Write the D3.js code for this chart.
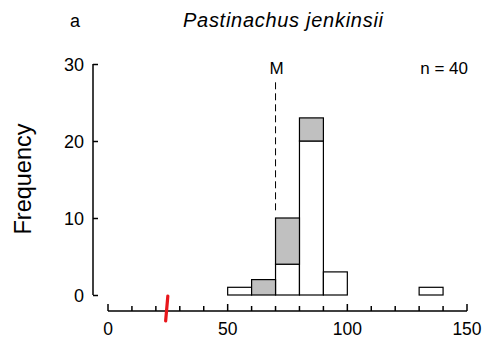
<!DOCTYPE html>
<html>
<head>
<meta charset="utf-8">
<script src="https://cdn.jsdelivr.net/npm/d3@7"></script>
<style>
  body { margin: 0; background: #fff; }
  svg text { font-family: "Liberation Sans", Arial, sans-serif; fill: #000; }
</style>
</head>
<body>
<div id="chart"></div>
<script>
// bin starts (width 10), counts split into the open and the grey part
var binStarts = [50, 60, 70, 80, 90, 130];
var whiteCounts = [1, 0, 4, 20, 3, 1];
var greyCounts = [0, 2, 6, 3, 0, 0];
var binWidth = 10;
var xTicks = [0, 50, 100, 150];
var yTicks = [0, 10, 20, 30];
var medianM = 70;       // dashed "M" line
var medianSpan = [11, 27.7];
var redMark = 24.5;     // red marker on the x axis
var sampleN = 40;

var width = 484, height = 340;

var svg = d3.select("#chart").append("svg")
  .attr("width", width)
  .attr("height", height);

// scales
var x = d3.scaleLinear().domain([0, 150]).range([108, 467]);
var y = d3.scaleLinear().domain([0, 30]).range([295, 64]);
var xAxisY = 311;
var yAxisX = 93;

// bars: white part then grey part stacked on top
var bars = binStarts.map(function(b, i) {
  return { x0: b, white: whiteCounts[i], grey: greyCounts[i] };
});

svg.selectAll("rect.white")
  .data(bars.filter(function(d) { return d.white > 0; }))
  .enter().append("rect")
  .attr("class", "white")
  .attr("x", function(d) { return x(d.x0); })
  .attr("width", function(d) { return x(d.x0 + binWidth) - x(d.x0); })
  .attr("y", function(d) { return y(d.white); })
  .attr("height", function(d) { return y(0) - y(d.white); })
  .attr("fill", "#fff")
  .attr("stroke", "#000")
  .attr("stroke-width", 1.2);

svg.selectAll("rect.grey")
  .data(bars.filter(function(d) { return d.grey > 0; }))
  .enter().append("rect")
  .attr("class", "grey")
  .attr("x", function(d) { return x(d.x0); })
  .attr("width", function(d) { return x(d.x0 + binWidth) - x(d.x0); })
  .attr("y", function(d) { return y(d.white + d.grey); })
  .attr("height", function(d) { return y(d.white) - y(d.white + d.grey); })
  .attr("fill", "#c0c0c0")
  .attr("stroke", "#000")
  .attr("stroke-width", 1.2);

// y axis (ticks pointing inward)
var yAxis = d3.axisRight(y).tickValues(yTicks).tickSize(5).tickFormat("");
var gy = svg.append("g").attr("transform", "translate(" + yAxisX + ",0)").call(yAxis);
gy.select(".domain").attr("d", "M0," + y(30) + "V" + y(0)).attr("stroke-width", 1.5);
gy.selectAll(".tick line").attr("stroke-width", 1.5);
svg.selectAll("text.ylab")
  .data(yTicks)
  .enter().append("text")
  .attr("class", "ylab")
  .attr("x", yAxisX - 9)
  .attr("y", function(d) { return y(d) + 6.5; })
  .attr("text-anchor", "end")
  .attr("font-size", 18)
  .text(function(d) { return d; });

// x axis, minor ticks every 10, ticks pointing up
var gx = svg.append("g").attr("transform", "translate(0," + xAxisY + ")");
gx.append("path")
  .attr("d", "M" + x(0) + ",0H" + x(150))
  .attr("stroke", "#000")
  .attr("stroke-width", 1.5);
gx.selectAll("line.tick")
  .data(d3.range(0, 151, 10))
  .enter().append("line")
  .attr("x1", function(d) { return x(d); })
  .attr("x2", function(d) { return x(d); })
  .attr("y1", 0)
  .attr("y2", function(d) { return xTicks.indexOf(d) >= 0 ? -7 : -5; })
  .attr("stroke", "#000")
  .attr("stroke-width", 1.5);
gx.selectAll("text")
  .data(xTicks)
  .enter().append("text")
  .attr("x", function(d) { return x(d); })
  .attr("y", 24)
  .attr("text-anchor", "middle")
  .attr("font-size", 17.5)
  .text(function(d) { return d; });

// red marker
svg.append("line")
  .attr("x1", x(redMark) + 1.2)
  .attr("x2", x(redMark) - 1)
  .attr("y1", 296)
  .attr("y2", 321)
  .attr("stroke", "#e8161b")
  .attr("stroke-width", 3.2)
  .attr("stroke-linecap", "round");

// dashed M line
svg.append("line")
  .attr("x1", x(medianM))
  .attr("x2", x(medianM))
  .attr("y1", y(medianSpan[0]))
  .attr("y2", y(medianSpan[1]))
  .attr("stroke", "#000")
  .attr("stroke-width", 1)
  .attr("stroke-dasharray", "7,4");
svg.append("text")
  .attr("x", x(medianM) + 1)
  .attr("y", 74)
  .attr("text-anchor", "middle")
  .attr("font-size", 17)
  .text("M");

svg.append("text")
  .attr("x", 468)
  .attr("y", 74)
  .attr("text-anchor", "end")
  .attr("font-size", 17)
  .text("n = " + sampleN);

// titles
svg.append("text")
  .attr("x", 70)
  .attr("y", 27)
  .attr("font-size", 18)
  .text("a");
svg.append("text")
  .attr("x", 183)
  .attr("y", 27)
  .attr("font-size", 20)
  .attr("font-style", "italic")
  .attr("textLength", 200)
  .attr("lengthAdjust", "spacing")
  .text("Pastinachus jenkinsii");

svg.append("text")
  .attr("transform", "translate(31,179) rotate(-90)")
  .attr("text-anchor", "middle")
  .attr("font-size", 23.5)
  .text("Frequency");
</script>
</body>
</html>
